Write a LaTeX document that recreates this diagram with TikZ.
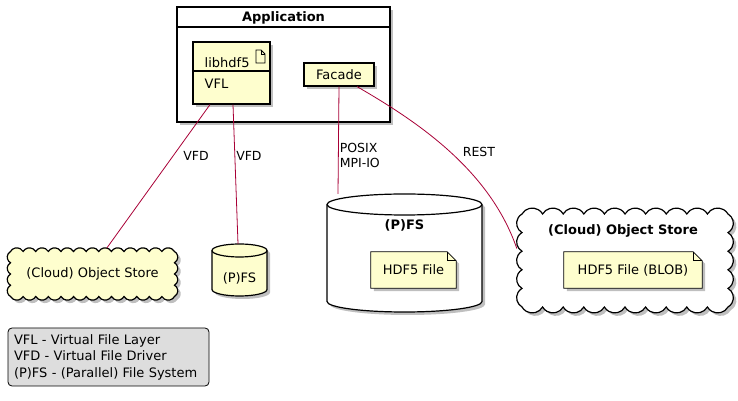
\documentclass[tikz,border=0pt]{standalone}
\usepackage{fontspec}
\setmainfont{DejaVu Sans}
\usetikzlibrary{shadows,positioning}

\definecolor{umlfill}{HTML}{FEFECE}
\definecolor{umlline}{HTML}{A80036}
\definecolor{legendfill}{HTML}{DDDDDD}

\pgfdeclarelayer{bg}
\pgfdeclarelayer{mid}
\pgfsetlayers{bg,mid,main}

\tikzset{
  txt/.style={font=\fontsize{13}{15}\selectfont},
  ttl/.style={font=\bfseries\fontsize{13}{15}\selectfont, inner sep=0pt},
  lbl/.style={font=\fontsize{12.5}{15}\selectfont, text=black, inner sep=1pt, align=left},
  shdw/.style={drop shadow={shadow xshift=3pt,shadow yshift=-3pt,fill=black,opacity=0.25}},
  box/.style={draw=black, line width=1.2pt, fill=umlfill, shdw},
  link/.style={umlline, line width=0.8pt},
}

% scalloped cloud on the box x1 y1 x2 y2, nx puffs across, ny puffs up
\newcommand{\puffcloud}[7][]{%
  \pgfmathsetmacro\pw{(#4-#2)/#6/1.732}%
  \pgfmathsetmacro\ph{(#5-#3)/#7/1.732}%
  \filldraw[#1] (#2,#3)
    \foreach \i in {1,...,#7}{ arc[start angle=240, end angle=120, radius=\ph] }
    \foreach \i in {1,...,#6}{ arc[start angle=150, end angle=30, radius=\pw] }
    \foreach \i in {1,...,#7}{ arc[start angle=60, end angle=-60, radius=\ph] }
    \foreach \i in {1,...,#6}{ arc[start angle=-30, end angle=-150, radius=\pw] } -- cycle;
}

\begin{document}
\begin{tikzpicture}[x=1pt,y=1pt]
  \useasboundingbox (0,0) rectangle (738,401);

  % containers at the back
  \begin{pgfonlayer}{bg}
    \node[box, fill=white, minimum width=213pt, minimum height=115pt, inner sep=0pt] (app) at (283.5,336.5) {};
    \draw[line width=1.2pt] (app.west |- 0,374) -- (app.east |- 0,374);
    \filldraw[box, fill=white] (327,196.5) -- (327,99.5)
      arc[start angle=180, end angle=360, x radius=77.5, y radius=10.5] -- (482,196.5)
      arc[start angle=0, end angle=180, x radius=77.5, y radius=10.5] -- cycle;
    \draw[line width=1.2pt] (327,196.5) arc[start angle=180, end angle=360, x radius=77.5, y radius=10.5];
    \puffcloud[box, fill=white]{522}{94}{728}{187}{10}{5}
  \end{pgfonlayer}

  \node[ttl] (apptitle) at (283.5,383.5) {Application};
  \node[minimum width=155pt, minimum height=118pt, inner sep=0pt] (bdb) at (404.5,148) {};
  \node[ttl] (bdbtitle) at (404.5,176) {(P)FS};
  \node[minimum width=216pt, minimum height=103pt, inner sep=0pt] (bcloud) at (625,140.5) {};
  \node[ttl] (bcloudtitle) at (623,170.5) {(Cloud) Object Store};

  % libhdf5 with its VFL
  \node[box, minimum width=77pt, minimum height=62pt, inner sep=0pt] (lib) at (231.5,328) {};
  \draw[line width=1.2pt] (lib.west |- 0,330) -- (lib.east |- 0,330);
  \node[txt, anchor=base west, inner sep=0pt] (libname) at (204.5,333) {libhdf5};
  \node[txt, anchor=base west, inner sep=0pt] (libvfl) at (204.5,312.7) {VFL};
  \draw[line width=0.8pt] (256,338) -- (256,351) -- (261,351) -- (265,347) -- (265,338) -- cycle;
  \draw[line width=0.8pt] (261,351) |- (265,347);

  \node[box, txt, minimum width=70pt, minimum height=23pt, inner sep=0pt] (facade) at (339,326.5) {Facade};

  % stores
  \node[txt, minimum width=171pt, minimum height=52pt, inner sep=0pt] (scloud) at (92.5,127) {(Cloud) Object Store};

  \node[minimum width=55pt, minimum height=53pt, inner sep=0pt] (sdb) at (239.5,130.5) {};
  \filldraw[box] (212,150.5) -- (212,111.5)
    arc[start angle=180, end angle=360, x radius=27.5, y radius=6.5] -- (267,150.5)
    arc[start angle=0, end angle=180, x radius=27.5, y radius=6.5] -- cycle;
  \draw[line width=1.2pt] (212,150.5) arc[start angle=180, end angle=360, x radius=27.5, y radius=6.5];
  \node[txt, inner sep=0pt] (sdbname) at (239.5,123) {(P)FS};

  % notes
  \node[txt, minimum width=85pt, minimum height=36pt, inner sep=0pt] (hfile) at (413.5,131) {HDF5 File};
  \node[txt, minimum width=138pt, minimum height=36pt, inner sep=0pt] (hblob) at (633,131) {HDF5 File (BLOB)};
  \begin{pgfonlayer}{mid}
    \puffcloud[box]{10.5}{104.5}{174.5}{149.5}{13}{4}
    \foreach \n in {hfile,hblob}{
      \filldraw[box, line width=0.8pt] (\n.south west) -- (\n.north west) -- ([xshift=-9pt]\n.north east)
        -- ([yshift=-9pt]\n.north east) -- (\n.south east) -- cycle;
      \draw[line width=0.8pt] ([xshift=-9pt]\n.north east) |- ([yshift=-9pt]\n.north east);
    }
  \end{pgfonlayer}

  % connectors
  \draw[link] ([xshift=-21.5pt]lib.south) -- node[lbl, right=9pt, pos=0.36] {VFD} ([xshift=14.5pt]scloud.north);
  \draw[link] ([xshift=1.5pt]lib.south) -- node[lbl, right, pos=0.37] {VFD} ([xshift=-1.5pt]sdb.north);
  \draw[link] (facade.south) -- node[lbl, right, pos=0.64] {POSIX\\MPI-IO} ([xshift=-66.5pt]bdb.north);
  \draw[link] ([xshift=18pt]facade.south) .. controls (420,278) and (490,230) ..
    node[lbl, right=11pt, pos=0.5] {REST} ([yshift=12pt]bcloud.west);

  % legend
  \node[draw, fill=legendfill, rounded corners=4pt, line width=0.8pt, txt, align=left,
    text width=189pt, inner xsep=6pt, minimum height=58pt, font=\fontsize{13}{16.5}\selectfont] (legend) at (108.5,44)
    {VFL - Virtual File Layer\\VFD - Virtual File Driver\\(P)FS - (Parallel) File System};
\end{tikzpicture}
\end{document}
